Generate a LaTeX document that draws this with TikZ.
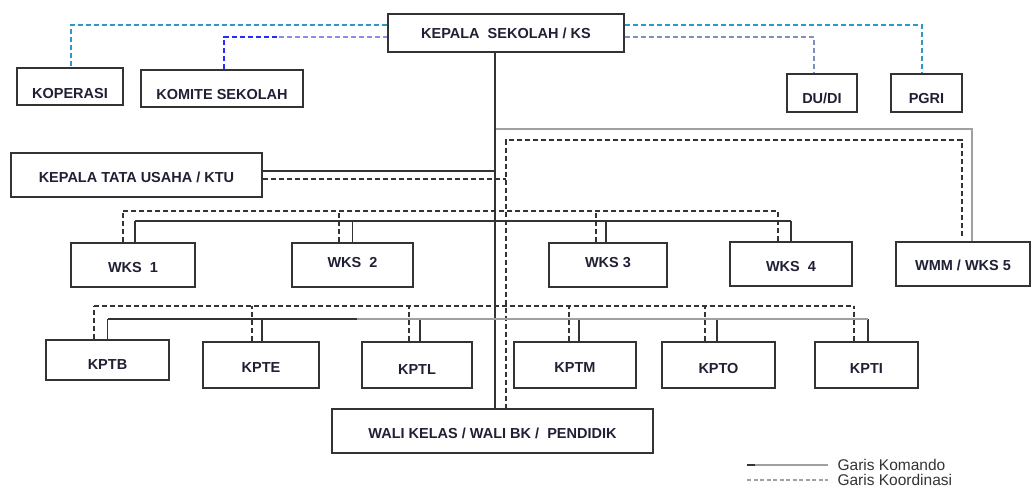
\documentclass[tikz,border=0pt]{standalone}
\usepackage{fontspec}
\setmainfont{Liberation Sans}

\definecolor{ink}{HTML}{333333}
\definecolor{txt}{HTML}{202035}
\definecolor{lightline}{HTML}{A0A0A0}
\definecolor{cyanline}{HTML}{2C9AC4}
\definecolor{blueline}{HTML}{2A2AF4}
\definecolor{paleblue}{HTML}{8C8CEC}
\definecolor{slateline}{HTML}{7F90C0}

\tikzset{
  box/.style={draw=ink, line width=1.4pt, font=\bfseries\fontsize{14.5}{16}\selectfont,
    text=txt, inner sep=0pt, text depth=0pt, text height=10.4pt},
  komando/.style={draw=ink, line width=1.2pt},
  komandogrey/.style={draw=lightline, line width=1.7pt},
  koordinasi/.style={draw=ink, line width=1.1pt, dash pattern=on 5pt off 3pt},
  luar/.style={koordinasi, line width=1.6pt, dash pattern=on 5pt off 3pt},
  legend/.style={font=\fontsize{15.5}{17}\selectfont, text=ink, inner sep=0pt, anchor=west, xshift=9pt},
}

\begin{document}
\begin{tikzpicture}[x=1pt, y=-1pt]
\useasboundingbox (0,0) rectangle (1035,490);

\node[box, minimum width=236, minimum height=38] (ks) at (506,33) {KEPALA\ \ SEKOLAH / KS};
\node[box, minimum width=106, minimum height=37, text height=23.4pt] (kop) at (70,86.5) {KOPERASI};
\node[box, minimum width=162, minimum height=37, text height=21.4pt] (kom) at (222,88.5) {KOMITE SEKOLAH};
\node[box, minimum width=70, minimum height=38, text height=20.4pt] (dudi) at (822,93) {DU/DI};
\node[box, minimum width=71, minimum height=38, text height=20.4pt] (pgri) at (926.5,93) {PGRI};

\node[box, minimum width=251, minimum height=44, text height=14.4pt] (ktu) at (136.5,175) {KEPALA TATA USAHA / KTU};

\node[box, minimum width=124, minimum height=44, text height=14.4pt] (wks1) at (133,265) {WKS\ \ 1};
\node[box, minimum width=121, minimum height=44, text height=4.4pt] (wks2) at (352.5,265) {WKS\ \ 2};
\node[box, minimum width=118, minimum height=44, text height=4.4pt] (wks3) at (608,265) {WKS 3};
\node[box, minimum width=122, minimum height=44, text height=14.4pt] (wks4) at (791,264) {WKS\ \ 4};
\node[box, minimum width=134, minimum height=44, text height=12.4pt] (wmm) at (963,264) {WMM / WKS 5};

\node[box, minimum width=123, minimum height=40, text height=18.4pt] (kptb) at (107.5,360) {KPTB};
\node[box, minimum width=116, minimum height=46, text height=14.4pt] (kpte) at (261,365) {KPTE};
\node[box, minimum width=110, minimum height=46, text height=18.4pt] (kptl) at (417,365) {KPTL};
\node[box, minimum width=122, minimum height=46, text height=14.4pt] (kptm) at (575,365) {KPTM};
\node[box, minimum width=113, minimum height=46, text height=16.4pt] (kpto) at (718.5,365) {KPTO};
\node[box, minimum width=103, minimum height=46, text height=16.4pt] (kpti) at (866.5,365) {KPTI};

\node[box, minimum width=321, minimum height=44, text height=14.4pt] (wali) at (492.5,431) {WALI KELAS / WALI BK /\ \ PENDIDIK};

\coordinate (trunk) at (495,52);
\coordinate (dtrunk) at (506,140);
\coordinate (split) at (495,129);
\coordinate (wbus) at (0,221);
\coordinate (wbusd) at (0,211);
\coordinate (kbus) at (0,319);
\coordinate (kbusd) at (0,306);
\coordinate (kmid) at (357,319);

% luar sekolah
\draw[luar, draw=cyanline] ([yshift=8pt]ks.west) -| ([xshift=1pt]kop.north);
\draw[luar, draw=blueline] ([xshift=2pt]kom.north) |- ([xshift=-108pt,yshift=-4pt]ks.west);
\draw[luar, draw=paleblue] ([xshift=-108pt,yshift=-4pt]ks.west) -- ([yshift=-4pt]ks.west);
\draw[luar, draw=cyanline] ([yshift=8pt]ks.east) -| ([xshift=-4.5pt]pgri.north);
\draw[luar, draw=slateline] ([yshift=-4pt]ks.east) -| ([xshift=-8pt]dudi.north);

% garis utama
\draw[komandogrey] (split) -| ([xshift=9pt]wmm.north);
\draw[koordinasi] ([xshift=-1pt,yshift=5pt]wmm.north) |- (dtrunk) -- (dtrunk |- wali.north);
\draw[komando] (trunk) -- (trunk |- wali.north);
\draw[komando] ([yshift=4pt]ktu.east) -- ([yshift=4pt]ktu.east -| trunk);
\draw[koordinasi] ([yshift=-4pt]ktu.east) -- ([yshift=-4pt]ktu.east -| dtrunk);

\foreach \n/\s/\d in {wks1/2/-10, wks2/0/-13.5, wks3/-2/-12, wks4/0/-13} {
  \path ([xshift=\s pt]\n.north) coordinate (\n-k) ([xshift=\d pt]\n.north) coordinate (\n-d);
  \draw[komando] (\n-k) -- (\n-k |- wbus);
  \draw[koordinasi] (\n-d) -- (\n-d |- wbusd);
}
\draw[komando] (wks1-k |- wbus) -- (wks4-k |- wbus);
\draw[koordinasi] (wks1-d |- wbusd) -- (wks4-d |- wbusd);

\foreach \n/\s/\d in {kptb/0/-13.5, kpte/1/-9, kptl/3/-8, kptm/4/-6, kpto/-1.5/-13.5, kpti/1.5/-12.5} {
  \path ([xshift=\s pt]\n.north) coordinate (\n-k) ([xshift=\d pt]\n.north) coordinate (\n-d);
  \draw[komando] (\n-k) -- (\n-k |- kbus);
  \draw[koordinasi] (\n-d) -- (\n-d |- kbusd);
}
\draw[komando] (kptb-k |- kbus) -- (kmid);
\draw[komando, draw=lightline] (kmid) -- (kpti-k |- kbus);
\draw[koordinasi] (kptb-d |- kbusd) -- (kpti-d |- kbusd);

% keterangan
\coordinate (legk) at (747,465);
\coordinate (legd) at (747,480);
\draw[komando, draw=lightline] (legk) -- ++(81,0) node[legend] (lk) {Garis Komando};
\draw[komando] (legk) -- ++(8,0);
\draw[koordinasi, draw=lightline, dash pattern=on 4pt off 2.5pt] (legd) -- ++(81,0) node[legend] (ld) {Garis Koordinasi};

\end{tikzpicture}
\end{document}
